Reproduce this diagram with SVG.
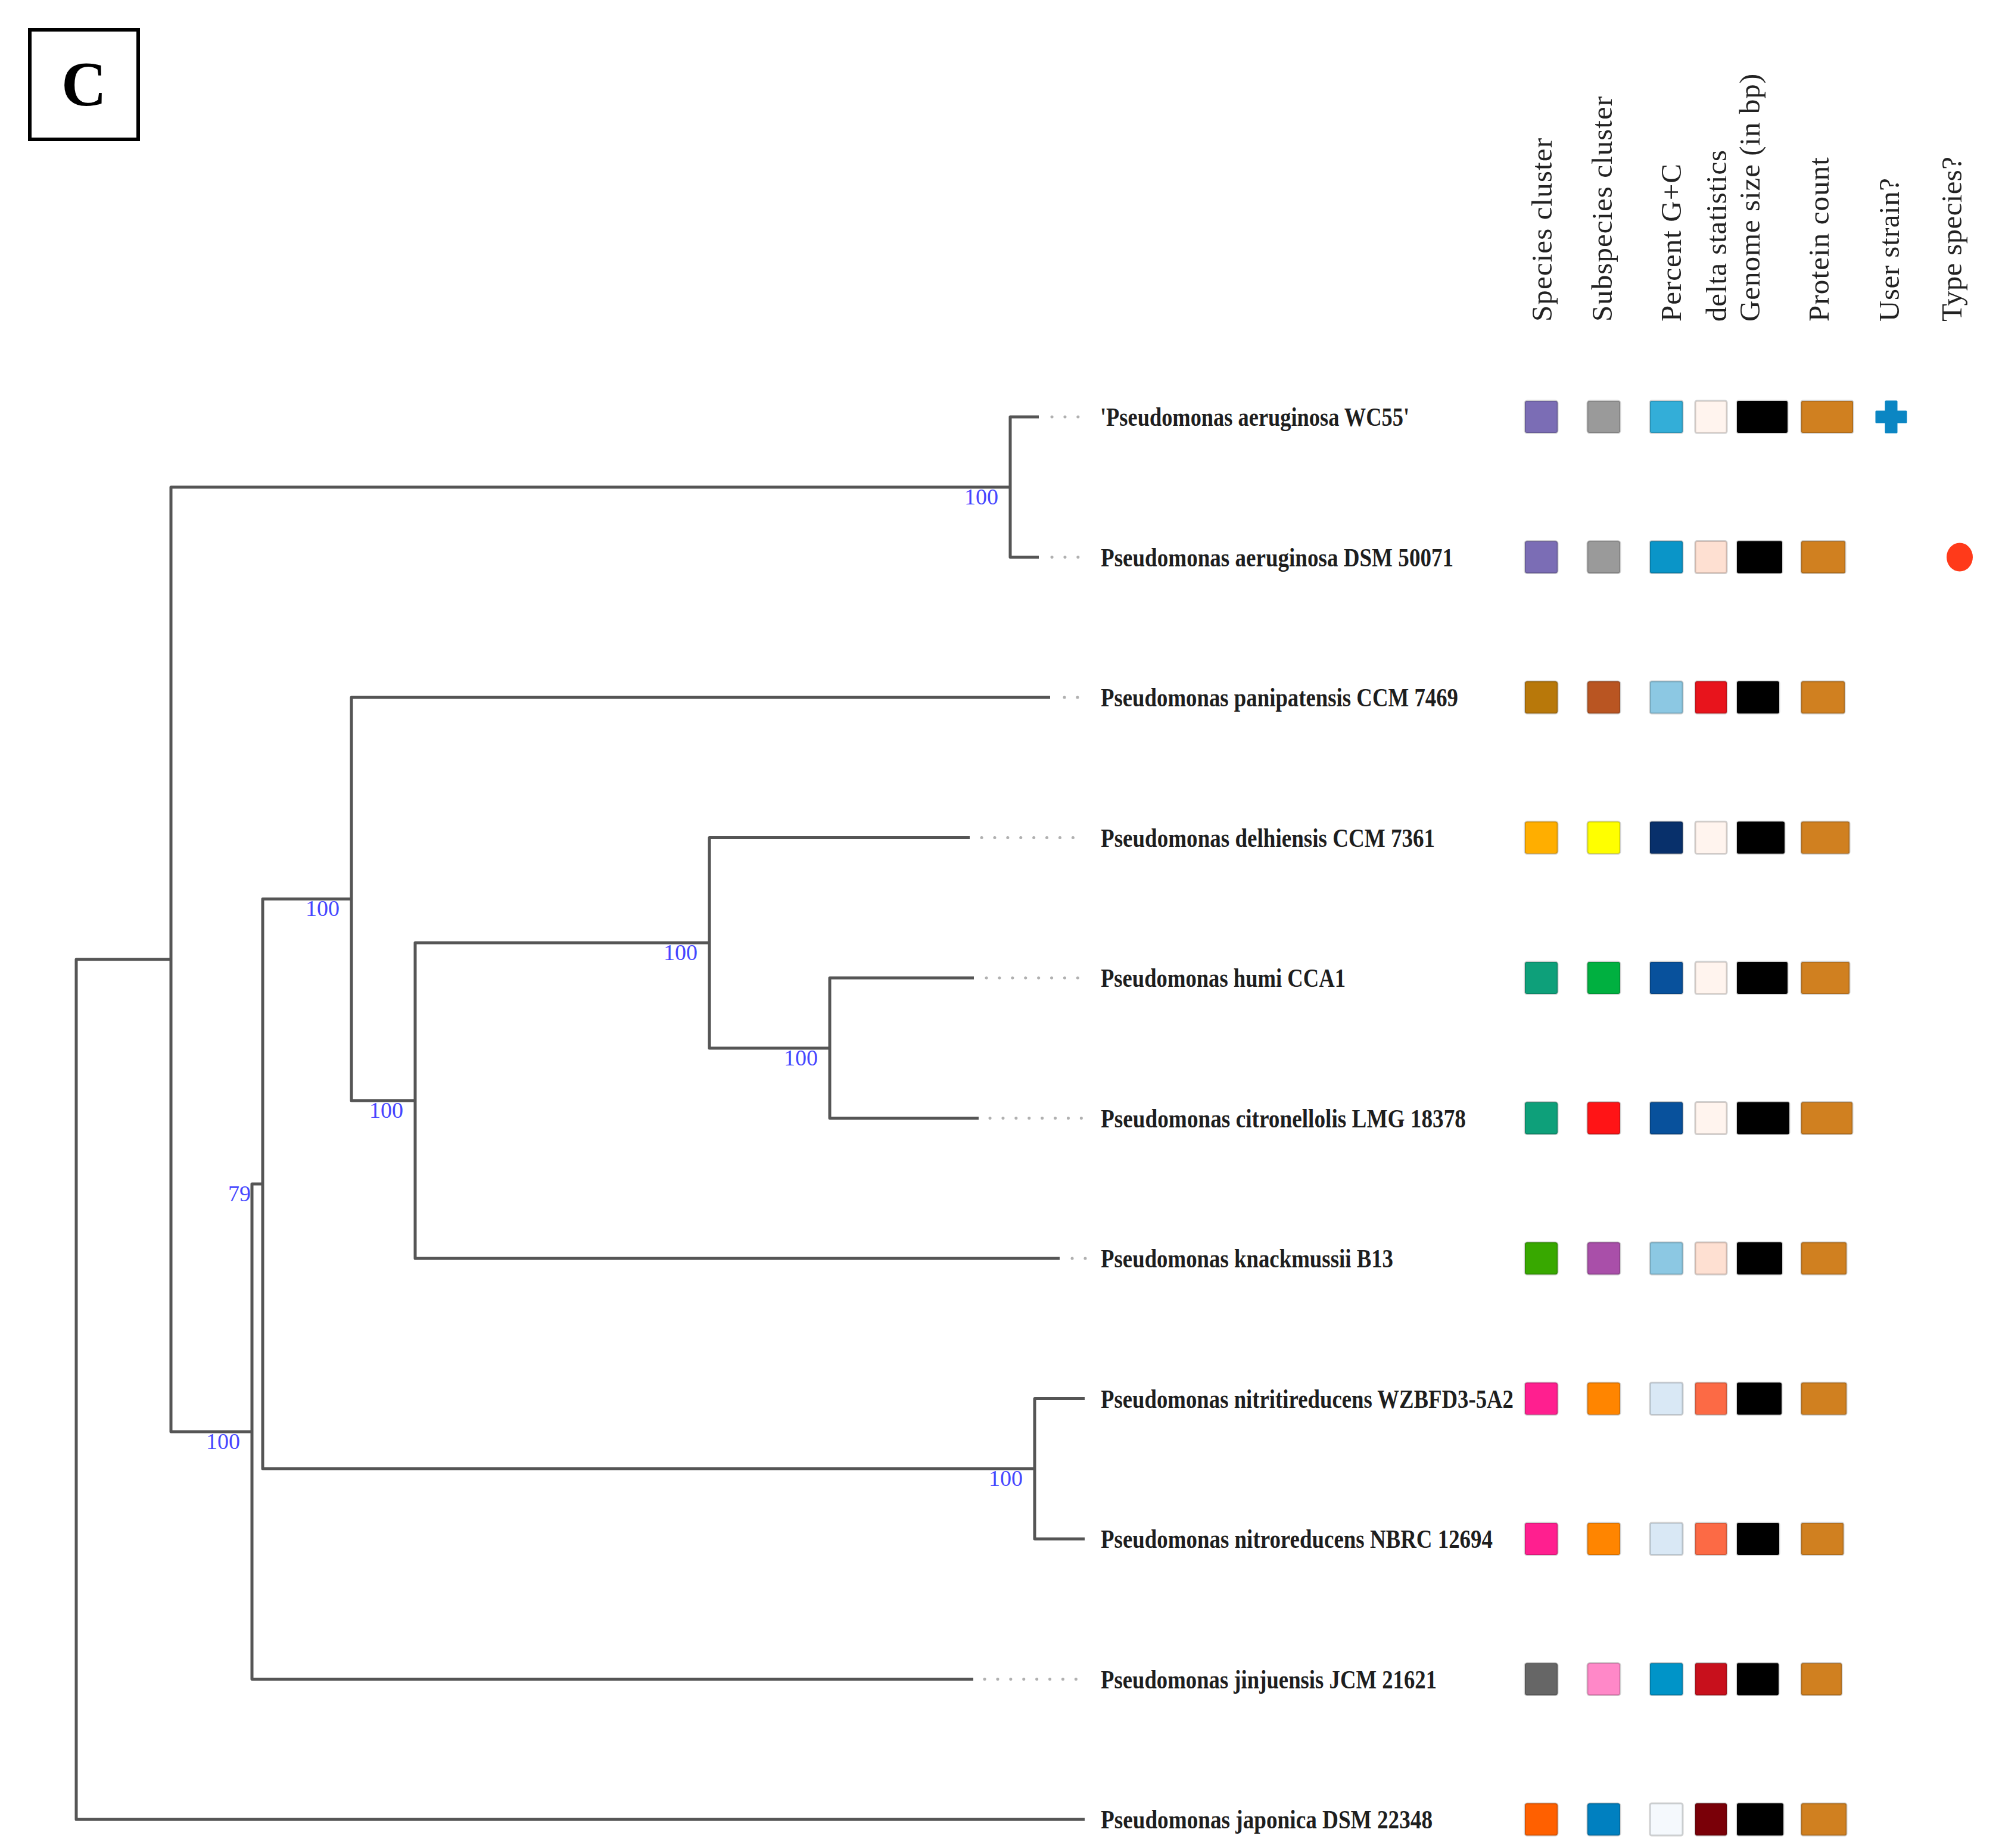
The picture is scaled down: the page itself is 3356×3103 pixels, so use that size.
<svg xmlns="http://www.w3.org/2000/svg" width="3356" height="3103" viewBox="0 0 3356 3103">
<style>
.br{fill:none;stroke:#555;stroke-width:5;stroke-linejoin:round}
.dt{fill:none;stroke:#b0b0b0;stroke-width:5;stroke-linecap:round;stroke-dasharray:0.1 21.8}
.bs{font-family:"Liberation Serif",serif;font-size:38px;fill:#4646ff;text-anchor:end}
.lb{font-family:"Liberation Serif",serif;font-size:44px;font-weight:bold;fill:#1e1e1e}
.hd{font-family:"Liberation Serif",serif;font-size:49px;fill:#222}
.sw{stroke:#000;stroke-opacity:0.18;stroke-width:3}
</style>
<rect width="3356" height="3103" fill="#fff"/>
<g id="panel-label">
<rect x="50" y="50" width="182" height="184" fill="#fff" stroke="#000" stroke-width="6"/>
<text x="141" y="177" text-anchor="middle" font-family="Liberation Serif,serif" font-weight="bold" font-size="105">C</text>
</g>
<g id="headers" class="hd">
<text transform="translate(2605,540) rotate(-90)" textLength="308">Species cluster</text>
<text transform="translate(2706,540) rotate(-90)" textLength="378">Subspecies cluster</text>
<text transform="translate(2822,540) rotate(-90)" textLength="265">Percent G+C</text>
<text transform="translate(2898,540) rotate(-90)" textLength="288">delta statistics</text>
<text transform="translate(2954,540) rotate(-90)" textLength="416">Genome size (in bp)</text>
<text transform="translate(3070,540) rotate(-90)" textLength="276">Protein count</text>
<text transform="translate(3188,540) rotate(-90)" textLength="241">User strain?</text>
<text transform="translate(3293,540) rotate(-90)" textLength="277">Type species?</text>
</g>
<g id="connectors">
<path class="br" d="M287 1611 H128 V3055 H1821"/>
<path class="br" d="M1696 818 H287 V2404 H423"/>
<path class="br" d="M1744 700 H1696 V935.5 H1744"/>
<path class="br" d="M441 1988 H423 V2819.5 H1634"/>
<path class="br" d="M590 1509.5 H441 V2466 H1737"/>
<path class="br" d="M1763 1171 H590 V1848 H697"/>
<path class="br" d="M1191 1583 H697 V2113 H1779"/>
<path class="br" d="M1628 1406.5 H1191 V1760 H1393"/>
<path class="br" d="M1635 1642 H1393 V1877.5 H1643"/>
<path class="br" d="M1821 2348.5 H1737 V2584 H1821"/>
<path class="dt" d="M1766 700 H1811"/>
<path class="dt" d="M1766 935.5 H1811"/>
<path class="dt" d="M1787 1171 H1810"/>
<path class="dt" d="M1648 1406.5 H1823"/>
<path class="dt" d="M1656 1642 H1810"/>
<path class="dt" d="M1662 1877.5 H1816"/>
<path class="dt" d="M1800 2113 H1823"/>
<path class="dt" d="M1653 2819.5 H1807"/>
</g>
<g id="bootstrap" class="bs">
<text x="1676" y="847">100</text>
<text x="570" y="1538">100</text>
<text x="1171" y="1612">100</text>
<text x="1373" y="1789">100</text>
<text x="677" y="1877">100</text>
<text x="421" y="2017">79</text>
<text x="403" y="2433">100</text>
<text x="1717" y="2495">100</text>
</g>
<g id="leaf-wc55">
<text class="lb" x="1847" y="715" textLength="519" lengthAdjust="spacingAndGlyphs">'Pseudomonas aeruginosa WC55'</text>
<rect class="sw" x="2560" y="673" width="55" height="54" rx="4" fill="#7b6db5"/>
<rect class="sw" x="2665" y="673" width="55" height="54" rx="4" fill="#9a9a9a"/>
<rect class="sw" x="2770" y="673" width="55" height="54" rx="3" fill="#33aed8"/>
<rect class="sw" x="2846" y="673" width="53" height="54" rx="3" fill="#fff4ee"/>
<rect class="sw" x="2916" y="673" width="85" height="54" rx="3" fill="#000"/>
<rect class="sw" x="3024" y="673" width="87" height="54" rx="3" fill="#d08020"/>
<path d="M3166 674 h18 v17 h16 v18 h-16 v17 h-18 v-17 h-16 v-18 h16 z" fill="#0b86c3" stroke="#0b86c3" stroke-width="3" stroke-linejoin="round"/>
</g>
<g id="leaf-dsm50071">
<text class="lb" x="1848" y="950.5" textLength="592" lengthAdjust="spacingAndGlyphs">Pseudomonas aeruginosa DSM 50071</text>
<rect class="sw" x="2560" y="908.5" width="55" height="54" rx="4" fill="#7b6db5"/>
<rect class="sw" x="2665" y="908.5" width="55" height="54" rx="4" fill="#9a9a9a"/>
<rect class="sw" x="2770" y="908.5" width="55" height="54" rx="3" fill="#0a95c8"/>
<rect class="sw" x="2846" y="908.5" width="53" height="54" rx="3" fill="#fee0d2"/>
<rect class="sw" x="2916" y="908.5" width="76" height="54" rx="3" fill="#000"/>
<rect class="sw" x="3024" y="908.5" width="74" height="54" rx="3" fill="#d08020"/>
<ellipse cx="3290" cy="935.5" rx="22" ry="24" fill="#ff3a1a"/>
</g>
<g id="leaf-panipatensis">
<text class="lb" x="1848" y="1186" textLength="600" lengthAdjust="spacingAndGlyphs">Pseudomonas panipatensis CCM 7469</text>
<rect class="sw" x="2560" y="1144" width="55" height="54" rx="4" fill="#b8780a"/>
<rect class="sw" x="2665" y="1144" width="55" height="54" rx="4" fill="#b95522"/>
<rect class="sw" x="2770" y="1144" width="55" height="54" rx="3" fill="#8cc8e3"/>
<rect class="sw" x="2846" y="1144" width="53" height="54" rx="3" fill="#e8141c"/>
<rect class="sw" x="2916" y="1144" width="71" height="54" rx="3" fill="#000"/>
<rect class="sw" x="3024" y="1144" width="73" height="54" rx="3" fill="#d08020"/>
</g>
<g id="leaf-delhiensis">
<text class="lb" x="1848" y="1421.5" textLength="561" lengthAdjust="spacingAndGlyphs">Pseudomonas delhiensis CCM 7361</text>
<rect class="sw" x="2560" y="1379.5" width="55" height="54" rx="4" fill="#ffae00"/>
<rect class="sw" x="2665" y="1379.5" width="55" height="54" rx="4" fill="#ffff00"/>
<rect class="sw" x="2770" y="1379.5" width="55" height="54" rx="3" fill="#08306b"/>
<rect class="sw" x="2846" y="1379.5" width="53" height="54" rx="3" fill="#fff4ee"/>
<rect class="sw" x="2916" y="1379.5" width="80" height="54" rx="3" fill="#000"/>
<rect class="sw" x="3024" y="1379.5" width="81" height="54" rx="3" fill="#d08020"/>
</g>
<g id="leaf-humi">
<text class="lb" x="1848" y="1657" textLength="411" lengthAdjust="spacingAndGlyphs">Pseudomonas humi CCA1</text>
<rect class="sw" x="2560" y="1615" width="55" height="54" rx="4" fill="#0ea07a"/>
<rect class="sw" x="2665" y="1615" width="55" height="54" rx="4" fill="#00b040"/>
<rect class="sw" x="2770" y="1615" width="55" height="54" rx="3" fill="#08519c"/>
<rect class="sw" x="2846" y="1615" width="53" height="54" rx="3" fill="#fff4ee"/>
<rect class="sw" x="2916" y="1615" width="85" height="54" rx="3" fill="#000"/>
<rect class="sw" x="3024" y="1615" width="81" height="54" rx="3" fill="#d08020"/>
</g>
<g id="leaf-citronellolis">
<text class="lb" x="1848" y="1892.5" textLength="613" lengthAdjust="spacingAndGlyphs">Pseudomonas citronellolis LMG 18378</text>
<rect class="sw" x="2560" y="1850.5" width="55" height="54" rx="4" fill="#0ea07a"/>
<rect class="sw" x="2665" y="1850.5" width="55" height="54" rx="4" fill="#ff1416"/>
<rect class="sw" x="2770" y="1850.5" width="55" height="54" rx="3" fill="#08519c"/>
<rect class="sw" x="2846" y="1850.5" width="53" height="54" rx="3" fill="#fff4ee"/>
<rect class="sw" x="2916" y="1850.5" width="88" height="54" rx="3" fill="#000"/>
<rect class="sw" x="3024" y="1850.5" width="86" height="54" rx="3" fill="#d08020"/>
</g>
<g id="leaf-knackmussii">
<text class="lb" x="1848" y="2128" textLength="491" lengthAdjust="spacingAndGlyphs">Pseudomonas knackmussii B13</text>
<rect class="sw" x="2560" y="2086" width="55" height="54" rx="4" fill="#38a800"/>
<rect class="sw" x="2665" y="2086" width="55" height="54" rx="4" fill="#a94fa9"/>
<rect class="sw" x="2770" y="2086" width="55" height="54" rx="3" fill="#8cc8e3"/>
<rect class="sw" x="2846" y="2086" width="53" height="54" rx="3" fill="#fee0d2"/>
<rect class="sw" x="2916" y="2086" width="76" height="54" rx="3" fill="#000"/>
<rect class="sw" x="3024" y="2086" width="76" height="54" rx="3" fill="#d08020"/>
</g>
<g id="leaf-nitritireducens">
<text class="lb" x="1848" y="2363.5" textLength="693" lengthAdjust="spacingAndGlyphs">Pseudomonas nitritireducens WZBFD3-5A2</text>
<rect class="sw" x="2560" y="2321.5" width="55" height="54" rx="4" fill="#ff1f8f"/>
<rect class="sw" x="2665" y="2321.5" width="55" height="54" rx="4" fill="#ff8500"/>
<rect class="sw" x="2770" y="2321.5" width="55" height="54" rx="3" fill="#d9e8f5"/>
<rect class="sw" x="2846" y="2321.5" width="53" height="54" rx="3" fill="#fc6a45"/>
<rect class="sw" x="2916" y="2321.5" width="75" height="54" rx="3" fill="#000"/>
<rect class="sw" x="3024" y="2321.5" width="76" height="54" rx="3" fill="#d08020"/>
</g>
<g id="leaf-nitroreducens">
<text class="lb" x="1848" y="2599" textLength="658" lengthAdjust="spacingAndGlyphs">Pseudomonas nitroreducens NBRC 12694</text>
<rect class="sw" x="2560" y="2557" width="55" height="54" rx="4" fill="#ff1f8f"/>
<rect class="sw" x="2665" y="2557" width="55" height="54" rx="4" fill="#ff8500"/>
<rect class="sw" x="2770" y="2557" width="55" height="54" rx="3" fill="#d9e8f5"/>
<rect class="sw" x="2846" y="2557" width="53" height="54" rx="3" fill="#fc6a45"/>
<rect class="sw" x="2916" y="2557" width="71" height="54" rx="3" fill="#000"/>
<rect class="sw" x="3024" y="2557" width="71" height="54" rx="3" fill="#d08020"/>
</g>
<g id="leaf-jinjuensis">
<text class="lb" x="1848" y="2834.5" textLength="564" lengthAdjust="spacingAndGlyphs">Pseudomonas jinjuensis JCM 21621</text>
<rect class="sw" x="2560" y="2792.5" width="55" height="54" rx="4" fill="#666666"/>
<rect class="sw" x="2665" y="2792.5" width="55" height="54" rx="4" fill="#ff88c8"/>
<rect class="sw" x="2770" y="2792.5" width="55" height="54" rx="3" fill="#0094c8"/>
<rect class="sw" x="2846" y="2792.5" width="53" height="54" rx="3" fill="#c8101c"/>
<rect class="sw" x="2916" y="2792.5" width="70" height="54" rx="3" fill="#000"/>
<rect class="sw" x="3024" y="2792.5" width="68" height="54" rx="3" fill="#d08020"/>
</g>
<g id="leaf-japonica">
<text class="lb" x="1848" y="3070" textLength="557" lengthAdjust="spacingAndGlyphs">Pseudomonas japonica DSM 22348</text>
<rect class="sw" x="2560" y="3028" width="55" height="54" rx="4" fill="#ff6000"/>
<rect class="sw" x="2665" y="3028" width="55" height="54" rx="4" fill="#0080c0"/>
<rect class="sw" x="2770" y="3028" width="55" height="54" rx="3" fill="#f5f9fd"/>
<rect class="sw" x="2846" y="3028" width="53" height="54" rx="3" fill="#7a0008"/>
<rect class="sw" x="2916" y="3028" width="78" height="54" rx="3" fill="#000"/>
<rect class="sw" x="3024" y="3028" width="76" height="54" rx="3" fill="#d08020"/>
</g>
</svg>
